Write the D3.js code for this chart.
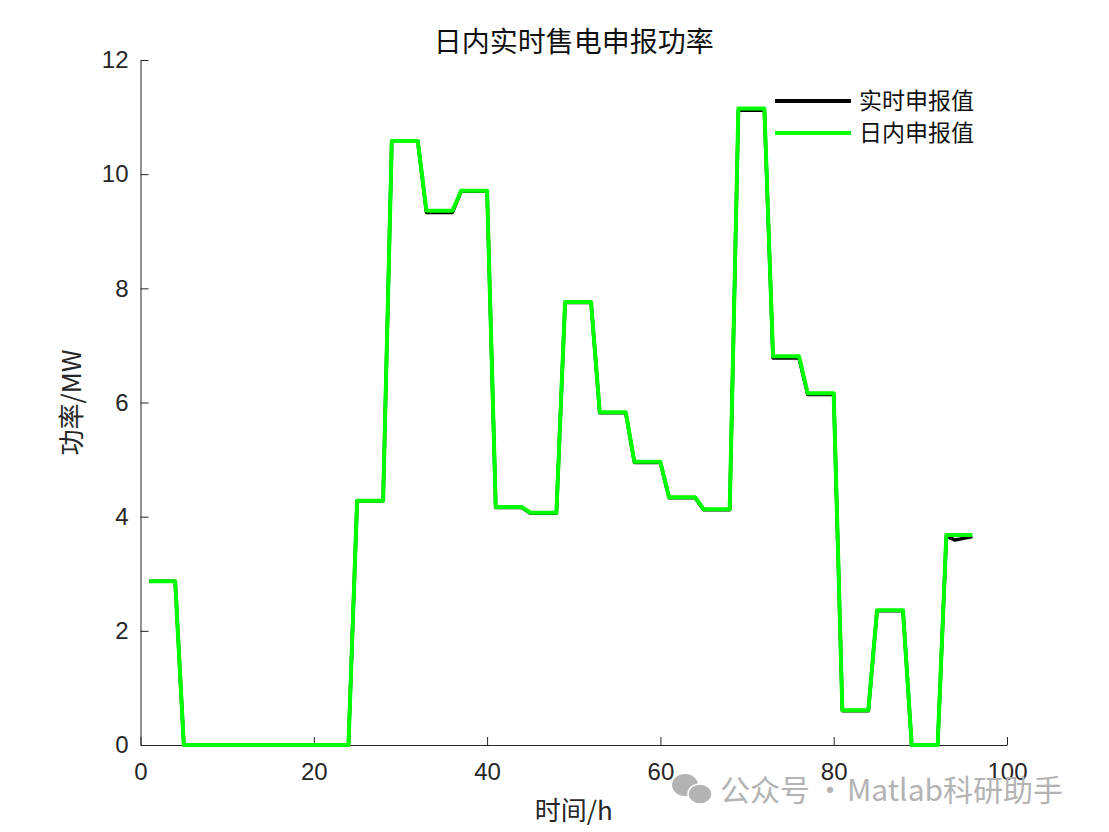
<!DOCTYPE html>
<html><head><meta charset="utf-8">
<script src="https://cdn.jsdelivr.net/npm/d3@7/dist/d3.min.js"></script>
<style>body{margin:0;background:#fff}svg{display:block}</style>
</head><body>
<script>
// ---- data ----
const timeSteps = d3.range(1, 97);
const intradayHourly = [2.87,0,0,0,0,0,4.28,10.58,9.36,9.71,4.17,4.07,7.76,5.83,4.96,4.34,4.13,11.15,6.81,6.16,0.61,2.36,0,3.68];
const realtimeValues = [
 2.87,2.87,2.87,2.87, 0,0,0,0, 0,0,0,0, 0,0,0,0, 0,0,0,0, 0,0,0,0,
 4.28,4.28,4.28,4.28, 10.58,10.58,10.58,10.58, 9.33,9.33,9.33,9.33, 9.70,9.70,9.70,9.70,
 4.16,4.16,4.16,4.16, 4.06,4.06,4.06,4.06, 7.75,7.75,7.75,7.75, 5.82,5.82,5.82,5.82,
 4.95,4.95,4.95,4.95, 4.33,4.33,4.33,4.33, 4.12,4.12,4.12,4.12, 11.12,11.12,11.12,11.12,
 6.78,6.78,6.78,6.78, 6.14,6.14,6.14,6.14, 0.60,0.60,0.60,0.60, 2.35,2.35,2.35,2.35,
 0,0,0,0, 3.66,3.59,3.62,3.65];
const intradayValues = intradayHourly.flatMap(v => [v, v, v, v]);
const xTicks = [0,20,40,60,80,100];
const yTicks = [0,2,4,6,8,10,12];
const seriesNames = ["实时申报值","日内申报值"];
const titleText = "日内实时售电申报功率";
const xLabel = "时间/h", yLabel = "功率/MW";

// ---- layout ----
const W = 1109, H = 832;
const m = {left: 140.5, right: 1007, top: 60, bottom: 745};
const svg = d3.select("body").append("svg").attr("width", W).attr("height", H);
const x = d3.scaleLinear().domain([0,100]).range([m.left, m.right]);
const y = d3.scaleLinear().domain([0,12]).range([m.bottom, m.top]);
const axisColor = "#262626";
const tickFont = "Liberation Sans, Arial, sans-serif";
const cjk = "Noto Sans CJK SC, sans-serif";

// axes
const xa = svg.append("g").attr("transform", `translate(0,${m.bottom})`)
  .call(d3.axisBottom(x).tickValues(xTicks).tickSizeInner(-8).tickSizeOuter(0).tickPadding(18));
const ya = svg.append("g").attr("transform", `translate(${m.left},0)`)
  .call(d3.axisLeft(y).tickValues(yTicks).tickSizeInner(-8).tickSizeOuter(0).tickPadding(12));
[xa, ya].forEach(g => {
  g.select(".domain").attr("stroke", axisColor).attr("stroke-width", 1);
  g.selectAll(".tick line").attr("stroke", axisColor);
  g.selectAll(".tick text").attr("fill", axisColor).style("font-family", tickFont).style("font-size", "24px");
});
xa.selectAll(".tick text").attr("dy", "0.71em");

// lines
const line = d3.line().x((d,i) => x(timeSteps[i])).y(d => y(d));
svg.append("path").datum(realtimeValues).attr("d", line)
  .attr("fill","none").attr("stroke","#000").attr("stroke-width",3.5).attr("stroke-linejoin","round");
svg.append("path").datum(intradayValues).attr("d", line)
  .attr("fill","none").attr("stroke","#00ff00").attr("stroke-width",4).attr("stroke-linejoin","round");

// title and labels
svg.append("text").attr("x", (m.left+m.right)/2).attr("y", 52).attr("text-anchor","middle")
  .style("font-family", cjk).style("font-size","28px").attr("fill","#111").text(titleText);
svg.append("text").attr("x", (m.left+m.right)/2).attr("y", 820).attr("text-anchor","middle")
  .style("font-family", cjk).style("font-size","26px").attr("fill",axisColor).text(xLabel);
svg.append("text").attr("transform", `translate(81,${(m.top+m.bottom)/2}) rotate(-90)`).attr("text-anchor","middle")
  .style("font-family", cjk).style("font-size","26px").attr("fill",axisColor).text(yLabel);

// legend
const legColors = ["#000","#00ff00"];
seriesNames.forEach((n,i) => {
  const ly = 101 + i*32;
  svg.append("line").attr("x1",775).attr("x2",851).attr("y1",ly).attr("y2",ly)
    .attr("stroke",legColors[i]).attr("stroke-width",4);
  svg.append("text").attr("x",859).attr("y",ly+8).style("font-family",cjk).style("font-size","23px")
    .attr("fill","#111").text(n);
});

// watermark
const wm = svg.append("g").attr("fill","#b3b3b3");
wm.append("ellipse").attr("cx",685).attr("cy",785).attr("rx",13).attr("ry",11);
wm.append("ellipse").attr("cx",700).attr("cy",794).attr("rx",12).attr("ry",10).attr("stroke","#fff").attr("stroke-width",1.5);
wm.append("text").attr("x",720).attr("y",801).style("font-family",cjk).style("font-size","30px").text("公众号");
wm.append("text").attr("x",830).attr("y",801).attr("text-anchor","middle").style("font-family",cjk).style("font-size","30px").text("·");
wm.append("text").attr("x",847).attr("y",801).style("font-family",cjk).style("font-size","30px").text("Matlab科研助手");
</script>
</body></html>
